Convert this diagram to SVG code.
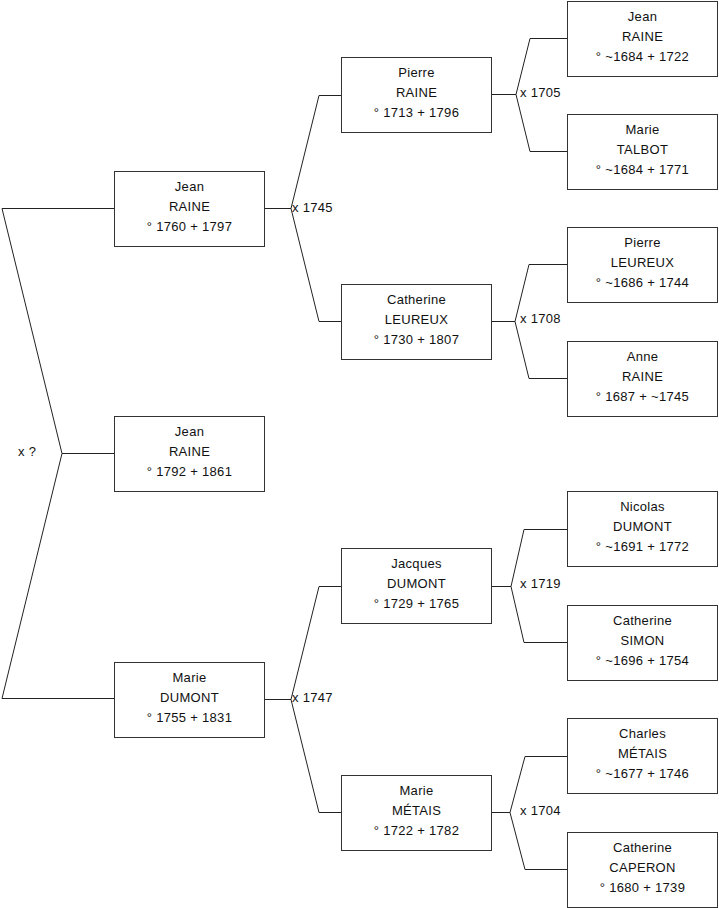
<svg xmlns="http://www.w3.org/2000/svg" width="719" height="908" viewBox="0 0 719 908">
<style>
.box{fill:#fff;stroke:#333;stroke-width:1}
.ln{fill:none;stroke:#222;stroke-width:1}
text{font-family:"Liberation Sans",Arial,sans-serif;font-size:13px;letter-spacing:0.3px;fill:#111}
.c{text-anchor:middle}
</style>
<rect width="719" height="908" fill="#fff"/>
<g id="connectors">
<polyline class="ln" points="114,208.5 2,208.5 62,453.5 2,698.5 114,698.5"/>
<line class="ln" x1="62" y1="453.5" x2="114" y2="453.5"/>
<line class="ln" x1="265" y1="208.5" x2="291" y2="208.5"/>
<polyline class="ln" points="341,95.5 319,95.5 291,208.5 319,321.5 341,321.5"/>
<line class="ln" x1="265" y1="699.5" x2="291" y2="699.5"/>
<polyline class="ln" points="341,586.5 319,586.5 291,699.5 319,812.5 341,812.5"/>
<line class="ln" x1="492" y1="94.5" x2="516" y2="94.5"/>
<polyline class="ln" points="567,38.5 530,38.5 516,94.5 530,151.5 567,151.5"/>
<line class="ln" x1="492" y1="321.5" x2="515" y2="321.5"/>
<polyline class="ln" points="567,264.5 529,264.5 515,321.5 529,378.5 567,378.5"/>
<line class="ln" x1="492" y1="586.5" x2="511" y2="586.5"/>
<polyline class="ln" points="567,529.5 524,529.5 511,586.5 524,642.5 567,642.5"/>
<line class="ln" x1="492" y1="812.5" x2="510" y2="812.5"/>
<polyline class="ln" points="567,756.5 525,756.5 510,812.5 525,869.5 567,869.5"/>
<text x="18" y="456">x ?</text>
<text x="292" y="211.5">x 1745</text>
<text x="292" y="702">x 1747</text>
<text x="520" y="97">x 1705</text>
<text x="520" y="323">x 1708</text>
<text x="520" y="588">x 1719</text>
<text x="520" y="815">x 1704</text>
</g>
<g id="n_jean_1760">
<rect class="box" x="114.5" y="171.5" width="150" height="75"/>
<text class="c" x="189.5" y="190.5">Jean</text><text class="c" x="189.5" y="210.5">RAINE</text><text class="c" x="189.5" y="230.5">° 1760 + 1797</text>
</g>
<g id="n_jean_1792">
<rect class="box" x="114.5" y="416.5" width="150" height="75"/>
<text class="c" x="189.5" y="435.5">Jean</text><text class="c" x="189.5" y="455.5">RAINE</text><text class="c" x="189.5" y="475.5">° 1792 + 1861</text>
</g>
<g id="n_marie_1755">
<rect class="box" x="114.5" y="662.5" width="150" height="75"/>
<text class="c" x="189.5" y="681.5">Marie</text><text class="c" x="189.5" y="701.5">DUMONT</text><text class="c" x="189.5" y="721.5">° 1755 + 1831</text>
</g>
<g id="n_pierre_1713">
<rect class="box" x="341.5" y="57.5" width="150" height="75"/>
<text class="c" x="416.5" y="76.5">Pierre</text><text class="c" x="416.5" y="96.5">RAINE</text><text class="c" x="416.5" y="116.5">° 1713 + 1796</text>
</g>
<g id="n_catherine_1730">
<rect class="box" x="341.5" y="284.5" width="150" height="75"/>
<text class="c" x="416.5" y="303.5">Catherine</text><text class="c" x="416.5" y="323.5">LEUREUX</text><text class="c" x="416.5" y="343.5">° 1730 + 1807</text>
</g>
<g id="n_jacques_1729">
<rect class="box" x="341.5" y="548.5" width="150" height="75"/>
<text class="c" x="416.5" y="567.5">Jacques</text><text class="c" x="416.5" y="587.5">DUMONT</text><text class="c" x="416.5" y="607.5">° 1729 + 1765</text>
</g>
<g id="n_marie_1722">
<rect class="box" x="341.5" y="775.5" width="150" height="75"/>
<text class="c" x="416.5" y="794.5">Marie</text><text class="c" x="416.5" y="814.5">MÉTAIS</text><text class="c" x="416.5" y="834.5">° 1722 + 1782</text>
</g>
<g id="n_jean_1684">
<rect class="box" x="567.5" y="1.5" width="150" height="75"/>
<text class="c" x="642.5" y="20.5">Jean</text><text class="c" x="642.5" y="40.5">RAINE</text><text class="c" x="642.5" y="60.5">° ~1684 + 1722</text>
</g>
<g id="n_marie_1684">
<rect class="box" x="567.5" y="114.5" width="150" height="75"/>
<text class="c" x="642.5" y="133.5">Marie</text><text class="c" x="642.5" y="153.5">TALBOT</text><text class="c" x="642.5" y="173.5">° ~1684 + 1771</text>
</g>
<g id="n_pierre_1686">
<rect class="box" x="567.5" y="227.5" width="150" height="75"/>
<text class="c" x="642.5" y="246.5">Pierre</text><text class="c" x="642.5" y="266.5">LEUREUX</text><text class="c" x="642.5" y="286.5">° ~1686 + 1744</text>
</g>
<g id="n_anne_1687">
<rect class="box" x="567.5" y="341.5" width="150" height="75"/>
<text class="c" x="642.5" y="360.5">Anne</text><text class="c" x="642.5" y="380.5">RAINE</text><text class="c" x="642.5" y="400.5">° 1687 + ~1745</text>
</g>
<g id="n_nicolas_1691">
<rect class="box" x="567.5" y="491.5" width="150" height="75"/>
<text class="c" x="642.5" y="510.5">Nicolas</text><text class="c" x="642.5" y="530.5">DUMONT</text><text class="c" x="642.5" y="550.5">° ~1691 + 1772</text>
</g>
<g id="n_catherine_1696">
<rect class="box" x="567.5" y="605.5" width="150" height="75"/>
<text class="c" x="642.5" y="624.5">Catherine</text><text class="c" x="642.5" y="644.5">SIMON</text><text class="c" x="642.5" y="664.5">° ~1696 + 1754</text>
</g>
<g id="n_charles_1677">
<rect class="box" x="567.5" y="718.5" width="150" height="75"/>
<text class="c" x="642.5" y="737.5">Charles</text><text class="c" x="642.5" y="757.5">MÉTAIS</text><text class="c" x="642.5" y="777.5">° ~1677 + 1746</text>
</g>
<g id="n_catherine_1680">
<rect class="box" x="567.5" y="832.5" width="150" height="75"/>
<text class="c" x="642.5" y="851.5">Catherine</text><text class="c" x="642.5" y="871.5">CAPERON</text><text class="c" x="642.5" y="891.5">° 1680 + 1739</text>
</g>
</svg>
